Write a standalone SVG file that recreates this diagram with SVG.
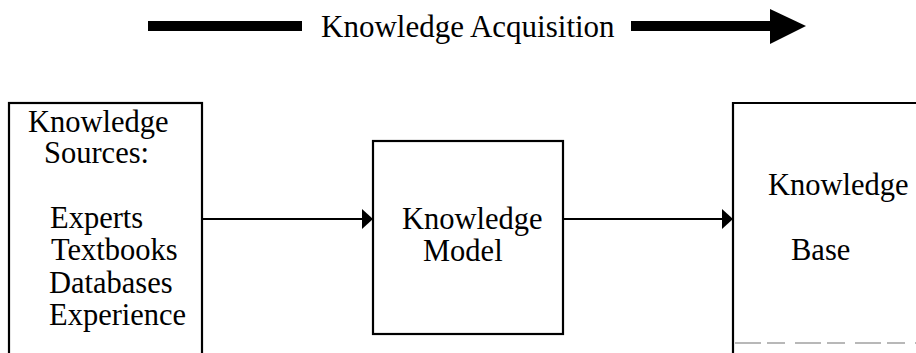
<svg xmlns="http://www.w3.org/2000/svg" width="916" height="353" viewBox="0 0 916 353">
  <style>
    .box { fill: #ffffff; stroke: #000000; stroke-width: 2.2; }
    .label { font-family: "Liberation Serif", "Times New Roman", serif; font-size: 30.5px; fill: #000000; }
    .title { font-family: "Liberation Serif", "Times New Roman", serif; font-size: 31px; fill: #000000; }
    .link { fill: none; stroke: #000000; stroke-width: 2.2; }
  </style>
  <defs>
    <marker id="arrow" markerUnits="userSpaceOnUse" markerWidth="12" markerHeight="20" refX="11" refY="10" orient="auto">
      <path d="M0,0 L11,10 L0,20 Z" fill="#000000"/>
    </marker>
  </defs>
  <rect width="916" height="353" fill="#ffffff"/>

  <!-- heading: thick process arrow with caption -->
  <g id="acquisition-banner">
    <rect x="148" y="21" width="154" height="10" fill="#000000"/>
    <text class="title" x="321" y="37">Knowledge Acquisition</text>
    <rect x="631" y="21" width="144" height="10" fill="#000000"/>
    <polygon points="770,9 806,26 770,44" fill="#000000"/>
  </g>

  <!-- source box (runs off the bottom edge) -->
  <g id="sources">
    <rect class="box" x="9" y="103" width="193" height="270"/>
    <text class="label" x="28" y="132">Knowledge</text>
    <text class="label" x="44" y="163">Sources:</text>
    <text class="label" x="50" y="228">Experts</text>
    <text class="label" x="51" y="260">Textbooks</text>
    <text class="label" x="49" y="293">Databases</text>
    <text class="label" x="49" y="325">Experience</text>
  </g>

  <!-- model box -->
  <g id="model">
    <rect class="box" x="373" y="141" width="190" height="193"/>
    <text class="label" x="402" y="229">Knowledge</text>
    <text class="label" x="423" y="261">Model</text>
  </g>

  <!-- knowledge base box (runs off the right edge) -->
  <g id="knowledge-base">
    <path class="box" d="M940,103 L733,103 L733,373" fill="#ffffff"/>
    <line x1="735" y1="343" x2="916" y2="343" stroke="#b8b8b8" stroke-width="2" stroke-dasharray="26,6,18,10"/>
    <text class="label" x="768" y="195">Knowledge</text>
    <text class="label" x="791" y="260">Base</text>
  </g>

  <g id="connectors">
    <line class="link" x1="202" y1="219" x2="373" y2="219" marker-end="url(#arrow)"/>
    <line class="link" x1="563" y1="219" x2="733" y2="219" marker-end="url(#arrow)"/>
  </g>
</svg>
